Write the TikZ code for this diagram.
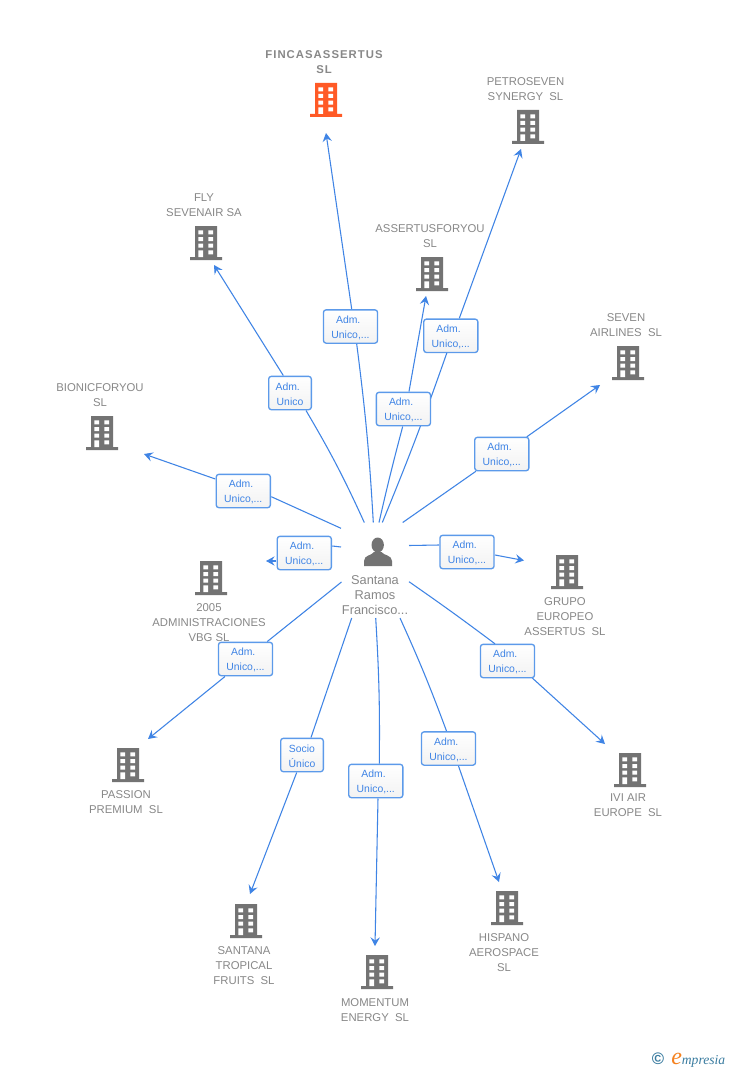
\documentclass[tikz,border=0pt]{standalone}
\usepackage{fontspec}
\setmainfont{Liberation Sans}
\newfontfamily\logofont{Liberation Serif}
\usetikzlibrary{arrows.meta,calc}
\definecolor{linkblue}{HTML}{3F84E5}
\definecolor{boxblue}{HTML}{5C9AEA}
\definecolor{txtgray}{HTML}{888888}
\definecolor{iconorange}{HTML}{FF5A26}
\definecolor{icongray}{HTML}{737373}
\definecolor{logoteal}{HTML}{3A7CA0}
\definecolor{logoorange}{HTML}{F58220}
\tikzset{
  entity/.style={text=txtgray,font=\fontsize{8.5}{11.25}\selectfont,align=center,inner sep=0pt},
  tagbox/.style={draw=boxblue,line width=1pt,rounded corners=2pt,top color=white,bottom color=white!95!black,
    text=linkblue,font=\fontsize{7.8}{11.25}\selectfont,align=center,minimum height=25pt,inner sep=0pt,text width=#1},
  link/.style={draw=linkblue,line width=0.8pt},
  linkend/.style={link,-{Stealth[length=6.5pt,width=7pt,inset=2.4pt]}},
}
\newcommand{\admtag}{\rule{0pt}{7pt}\hbox{Adm.\kern3.4pt}}
% building icon: centre, colour
\newcommand{\bldg}[3]{%
  \begin{scope}[shift={(#1,#2)}]
    \fill[#3] (-11,-17) rectangle (11,14) (-16,14) rectangle (16,17);
    \fill[white] (-7.7,-12.7) rectangle (-3,-8.7) (2.3,-12.7) rectangle (7,-8.7)
      (-7.7,-6) rectangle (-3,-2) (2.3,-6) rectangle (7,-2)
      (-7.7,0.7) rectangle (-3,4.7) (2.3,0.7) rectangle (7,4.7)
      (-7.7,7.3) rectangle (-3,14) (2.3,7.3) rectangle (7,11.3);
  \end{scope}}
% tag box: width, id, centre, text
\newcommand{\tagitem}[4][40.6pt]{\node[tagbox=#1] (t#2) at (#3) {#4};}
% link: id, start, end, offset of lower point from box centre, offset of upper point, bend in, bend out
\newcommand{\linkitem}[7]{%
  \coordinate (s#1) at (#2);
  \coordinate (e#1) at (#3);
  \path[link] (s#1) to[bend left=#6] ($(t#1)+(#4)$);
  \path[linkend] ($(t#1)+(#5)$) to[bend left=#7] (e#1);
}
\begin{document}
\begin{tikzpicture}[x=0.75pt,y=-0.75pt]
\useasboundingbox[fill=white] (0,0) rectangle (728,1070);

% person
\node[inner sep=0pt,minimum width=28pt,minimum height=28pt] (person) at (378,551) {};
\fill[icongray] (377.7,545) ellipse (6.2 and 7.5);
\fill[icongray] (364,566) -- (364,561) .. controls (364,555) and (372,555.5) .. (374,552) -- (381.5,552) .. controls (383.5,555.5) and (392,555) .. (392,561) -- (392,566) -- cycle;
\node[entity,font=\fontsize{9.6}{11.25}\selectfont] (personlabel) at (375,595) {Santana\\Ramos\\Francisco...};

% buildings
\bldg{326}{100}{iconorange}
\bldg{528}{127}{icongray}
\bldg{206}{243}{icongray}
\bldg{432}{274}{icongray}
\bldg{628}{363}{icongray}
\bldg{102}{433}{icongray}
\bldg{211}{578}{icongray}
\bldg{567}{572}{icongray}
\bldg{630}{770}{icongray}
\bldg{128}{765}{icongray}
\bldg{246}{921}{icongray}
\bldg{377}{972}{icongray}
\bldg{507}{908}{icongray}

% labels
\node[entity,font=\fontsize{8.5}{11.25}\bfseries\selectfont\addfontfeature{LetterSpace=9}] (lfinca) at (324,62) {FINCASASSERTUS\\SL};
\node[entity] (lpetro) at (525.5,89.5) {PETROSEVEN\\SYNERGY\ \ SL};
\node[entity] (lfly) at (204,205.5) {FLY\\SEVENAIR SA};
\node[entity] (lassert) at (430,236.5) {ASSERTUSFORYOU\\SL};
\node[entity] (lseven) at (626,325.5) {SEVEN\\AIRLINES\ \ SL};
\node[entity] (lbionic) at (100,395.5) {BIONICFORYOU\\SL};
\node[entity] (l2005) at (209,623) {2005\\ADMINISTRACIONES\\VBG SL};
\node[entity] (lgrupo) at (565,617) {GRUPO\\EUROPEO\\ASSERTUS\ \ SL};
\node[entity] (livi) at (628,805.5) {IVI AIR\\EUROPE\ \ SL};
\node[entity] (lpassion) at (126,802.5) {PASSION\\PREMIUM\ \ SL};
\node[entity] (lsantana) at (244,966) {SANTANA\\TROPICAL\\FRUITS\ \ SL};
\node[entity] (lmoment) at (375,1010.5) {MOMENTUM\\ENERGY\ \ SL};
\node[entity] (lhisp) at (504,953) {HISPANO\\AEROSPACE\\SL};

% links: the petroseven line runs behind the assertusforyou box
\tagitem{petro}{450.8,335.8}{\admtag\\Unico,...}
\linkitem{petro}{382.3,522.5}{521,149}{-4,17.2}{8.5,-17.5}{-1.5}{0}
\tagitem{finca}{350.5,326.5}{\admtag\\Unico,...}
\linkitem{finca}{373.3,522.5}{326,133}{6.2,17.5}{1.2,-17.5}{-2}{0}
\tagitem{assert}{403.4,409}{\admtag\\Unico,...}
\linkitem{assert}{379,522.5}{426,296}{-0.7,17.5}{5.6,-17.5}{1}{0}
\tagitem[32pt]{fly}{290,393}{\admtag\\Unico}
\linkitem{fly}{364.3,522.5}{214,265}{16,17.5}{-6.7,-17.5}{-3}{0}
\tagitem{seven}{501.8,454}{\admtag\\Unico,...}
\linkitem{seven}{402.7,522.5}{600,385}{-25.8,17.2}{25,-17.2}{0}{0}
\tagitem{bionic}{243.3,491}{\admtag\\Unico,...}
\linkitem{bionic}{341,528.3}{144,454}{28,5.7}{-28,-12}{0}{0}
\tagitem{v2005}{304.3,553}{\admtag\\Unico,...}
\linkitem{v2005}{341,547}{266,561}{28,-7}{-28,8}{0}{0}
\tagitem{grupo}{467,552}{\admtag\\Unico,...}
\linkitem{grupo}{409,545.5}{524,560.5}{-28,-7}{28,3}{0}{0}
\tagitem{ivi}{507.5,661}{\admtag\\Unico,...}
\linkitem{ivi}{409,581.7}{605,744}{-12.5,-17.2}{25,17.2}{1}{0}
\tagitem{hisp}{448.5,748.5}{\admtag\\Unico,...}
\linkitem{hisp}{400,618}{499,882}{-2,-17.5}{10,17.5}{2}{0}
\tagitem{moment}{375.8,781}{\admtag\\Unico,...}
\linkitem{moment}{375.7,618}{375,946}{3.5,-17.5}{2.2,17.5}{2}{0}
\tagitem[32pt]{santana}{302,755}{\rule{0pt}{7pt}Socio\\Único}
\linkitem{santana}{351.7,618}{250,894}{9,-17.5}{-5.3,17.5}{0}{0}
\tagitem{passion}{245.5,659}{\admtag\\Unico,...}
\linkitem{passion}{341.5,582}{148,739}{21.8,-17.5}{-20.5,17.5}{0}{0}

% logo
\node[text=logoteal,font=\bfseries\fontsize{12.5}{12.5}\selectfont,inner sep=0pt] (copy) at (658,1059) {©};
\node[inner sep=0pt,anchor=base west,font=\logofont\itshape\fontsize{10.2}{10.2}\selectfont,text=logoteal] (brand) at (671,1064) {{\color{logoorange}\fontsize{18}{18}\selectfont e}mpresia};
\end{tikzpicture}
\end{document}
